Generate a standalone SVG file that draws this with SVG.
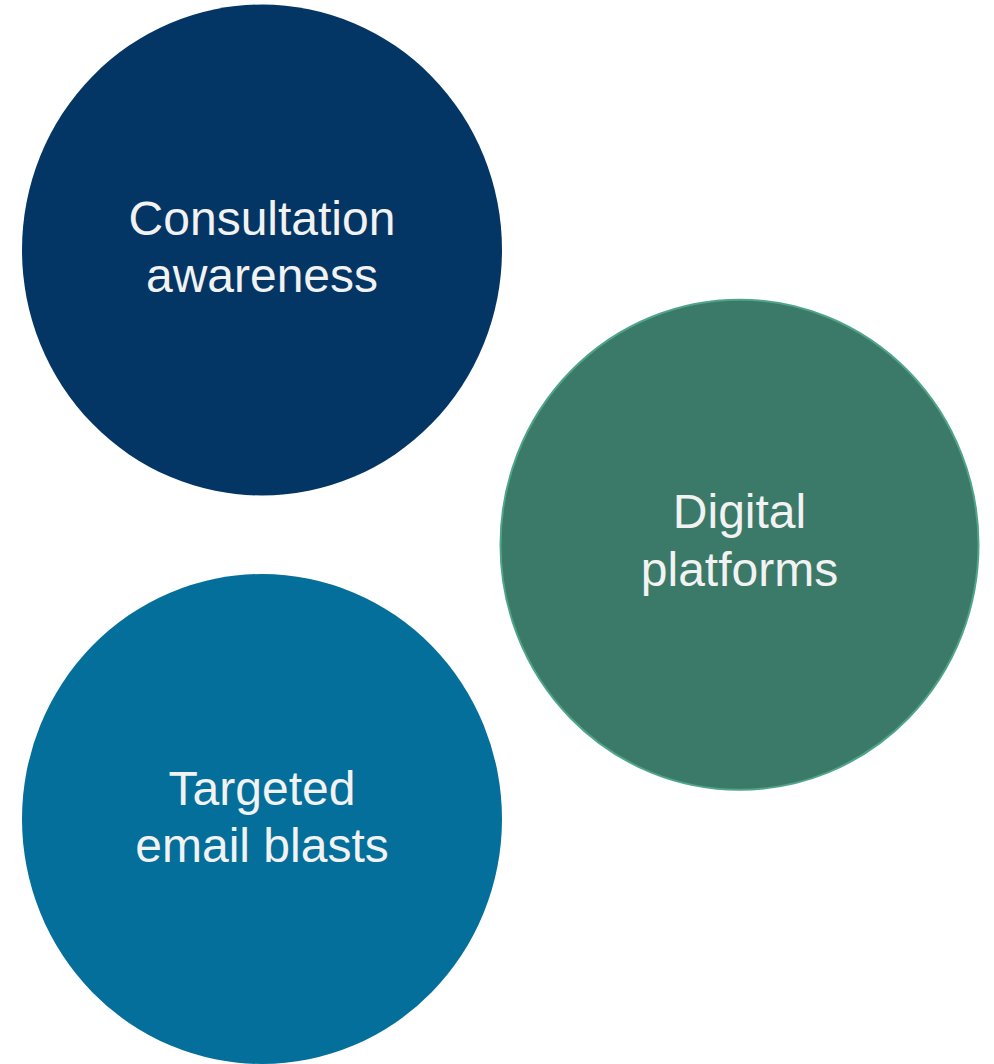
<svg xmlns="http://www.w3.org/2000/svg" width="994" height="1064" viewBox="0 0 994 1064">
  <style>
    .lbl { font-family: "Liberation Sans", Arial, sans-serif; font-size: 48px; fill: #f2f2f2; text-anchor: middle; }
  </style>
  <rect width="994" height="1064" fill="#ffffff"/>
  <g id="node-consultation">
    <ellipse cx="262" cy="250" rx="240" ry="245.5" fill="#033664"/>
    <text class="lbl"><tspan x="262" y="235">Consultation</tspan><tspan x="262" y="292">awareness</tspan></text>
  </g>
  <g id="node-digital">
    <ellipse cx="739.5" cy="544.8" rx="239" ry="245" fill="#3b7a69" stroke="#4fa48a" stroke-width="2"/>
    <text class="lbl"><tspan x="739.5" y="528">Digital</tspan><tspan x="739.5" y="586">platforms</tspan></text>
  </g>
  <g id="node-targeted">
    <ellipse cx="262" cy="819" rx="240" ry="245" fill="#036f9a"/>
    <text class="lbl"><tspan x="262" y="805">Targeted</tspan><tspan x="262" y="862">email blasts</tspan></text>
  </g>
  <g id="connectors"/>
</svg>
